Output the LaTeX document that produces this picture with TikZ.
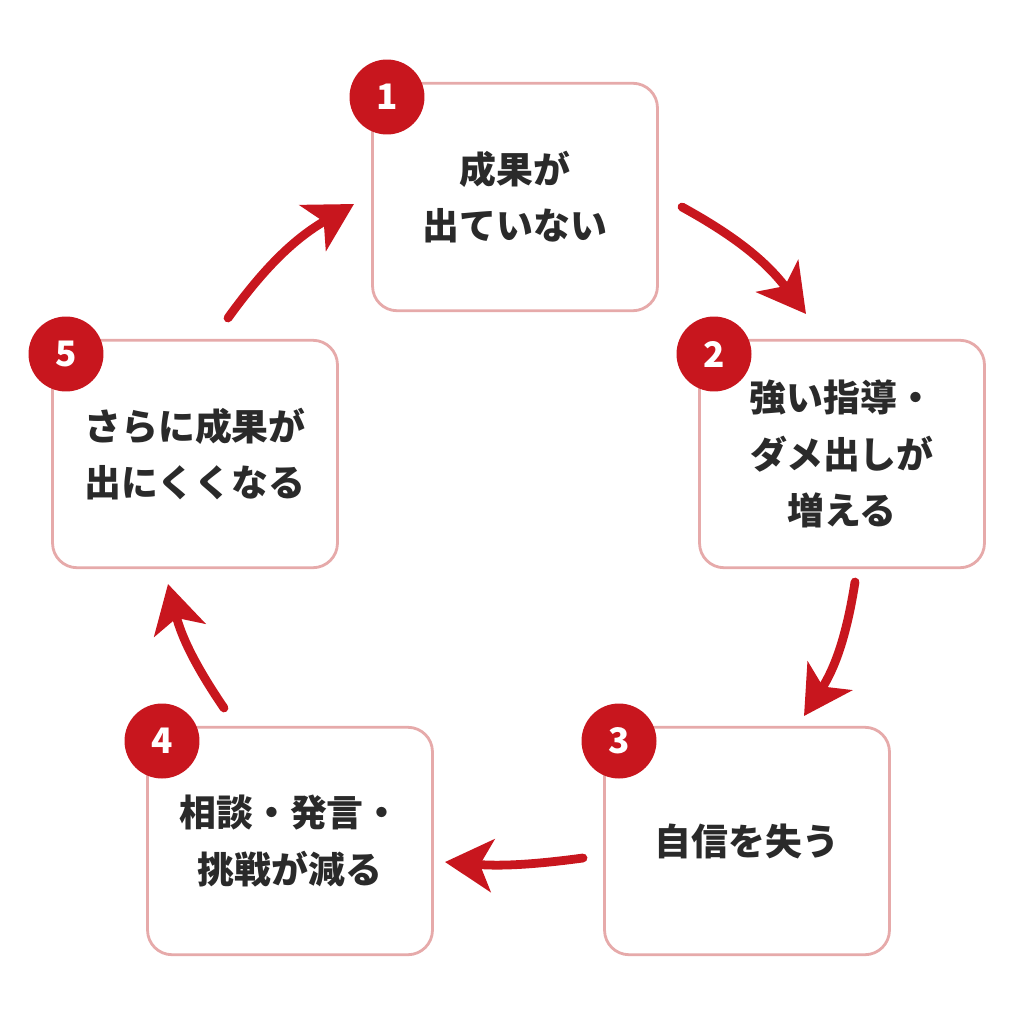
\documentclass[tikz,border=0pt]{standalone}
\usepackage{fontspec}
\setmainfont{Noto Sans CJK JP}
\usetikzlibrary{arrows.meta}
\definecolor{boxline}{HTML}{E6AAAA}
\definecolor{cyclered}{HTML}{C8161E}
\definecolor{txt}{HTML}{2A2A2A}
\tikzset{
  stage/.style={draw=boxline, line width=1.6pt, rounded corners=14pt, fill=white,
    minimum width=5.7cm, minimum height=4.55cm, align=center,
    font=\fontsize{21}{32}\selectfont\bfseries, text=txt},
  num/.style={circle, fill=cyclered, minimum size=1.5cm, inner sep=0pt,
    text=white, font=\fontsize{20}{20}\selectfont\bfseries},
  flow/.style={-{Stealth[length=0.95cm,width=1.05cm,inset=0.25cm]}, line width=5pt, cyclered, line cap=round}
}
\begin{document}
\begin{tikzpicture}[x=0.02cm,y=-0.02cm]
\useasboundingbox (0,0) rectangle (1024,1024);
\node[stage] (s1) at (515,197) {成果が\\出ていない};
\node[stage] (s2) at (842,454) {強い指導・\\ダメ出しが\\増える};
\node[stage] (s3) at (747,841) {自信を失う};
\node[stage] (s4) at (290,841) {相談・発言・\\挑戦が減る};
\node[stage] (s5) at (195,454) {さらに成果が\\出にくくなる};

\node[num] (n1) at (387,97) {1};
\node[num] (n2) at (714,354) {2};
\node[num] (n3) at (619,741) {3};
\node[num] (n4) at (162,741) {4};
\node[num] (n5) at (66,354) {5};

\coordinate (a1) at (682,207); \coordinate (b1) at (806,314);
\coordinate (a2) at (855,582); \coordinate (b2) at (804,716);
\coordinate (a3) at (583,858); \coordinate (b3) at (445,862);
\coordinate (a4) at (224,708); \coordinate (b4) at (168,584);
\coordinate (a5) at (228,318); \coordinate (b5) at (354,204);

\draw[flow] (a1) to[bend left=12] (b1);
\draw[flow] (a2) to[bend left=12] (b2);
\draw[flow] (a3) to[bend left=6] (b3);
\draw[flow] (a4) to[bend left=10] (b4);
\draw[flow] (a5) to[bend left=12] (b5);
\end{tikzpicture}
\end{document}
